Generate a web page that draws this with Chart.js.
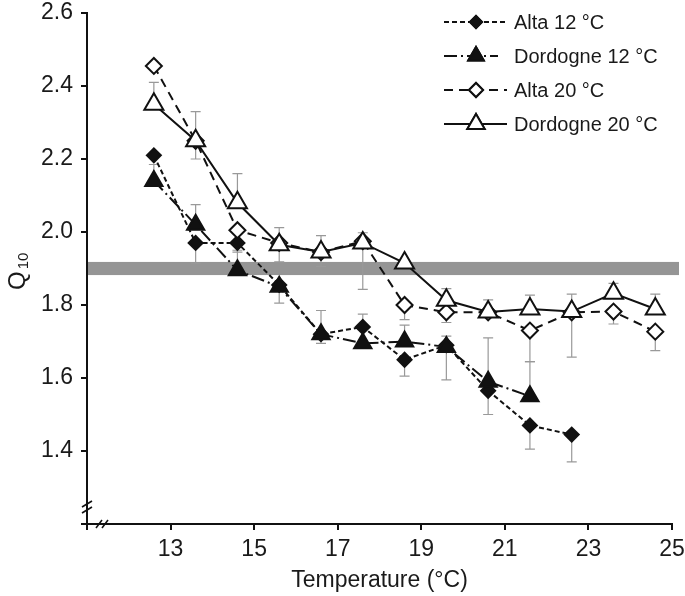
<!DOCTYPE html>
<html><head><meta charset="utf-8">
<script src="https://cdn.jsdelivr.net/npm/chart.js@4"></script>
<style>html,body{margin:0;padding:0;background:#fff}#wrap{width:685px;height:596px}</style>
</head><body><div id="wrap"><canvas id="c" width="685" height="596"></canvas></div>
<script>
// ---- data ----
const temperatures = [12.6, 13.6, 14.6, 15.6, 16.6, 17.6, 18.6, 19.6, 20.6, 21.6, 22.6, 23.6, 24.6];
const seriesNames = ['Alta 12 \u00B0C', 'Dordogne 12 \u00B0C', 'Alta 20 \u00B0C', 'Dordogne 20 \u00B0C'];

const alta12      = [2.21, 1.97, 1.97, 1.855, 1.72, 1.74, 1.65, 1.69, 1.565, 1.47, 1.445, null, null];
const dordogne12  = [2.14, 2.02, 1.895, 1.85, 1.72, 1.695, 1.70, 1.685, 1.59, 1.55, null, null, null];
const alta20      = [2.455, 2.25, 2.005, 1.97, 1.945, 1.975, 1.80, 1.78, 1.78, 1.73, 1.78, 1.782, 1.727];
const dordogne20  = [2.35, 2.25, 2.08, 1.965, 1.945, 1.97, 1.915, 1.813, 1.781, 1.789, 1.782, 1.832, 1.789];

// error bar ends (null = not visible)
const alta12Low      = [null, 1.915, 1.945, 1.805, 1.695, null, 1.605, null, 1.50, 1.405, 1.37, null, null];
const alta12High     = [null, null, null, null, null, 1.775, null, null, null, null, null, null, null];
const dordogne12Low  = [null, null, null, null, null, null, null, 1.595, null, null, null, null, null];
const dordogne12High = [2.185, 2.075, 1.95, null, 1.785, null, 1.745, 1.715, 1.71, 1.645, null, null, null];
const alta20Low      = [null, 2.20, null, 1.918, 1.905, 1.843, 1.76, 1.752, null, 1.645, 1.657, 1.748, 1.675];
const alta20High     = [null, null, null, null, null, null, null, null, null, null, null, null, null];
const dordogne20Low  = [null, null, null, null, null, null, null, null, null, null, null, null, null];
const dordogne20High = [2.41, 2.33, 2.16, 2.012, 1.99, 1.998, null, 1.845, 1.814, 1.827, 1.83, 1.859, 1.83];

const xTickValues = [11, 13, 15, 17, 19, 21, 23, 25];
const yTickValues = [1.2, 1.4, 1.6, 1.8, 2.0, 2.2, 2.4, 2.6];
const referenceBand = [1.882, 1.918];
const yTitleMain = 'Q';
const yTitleSub = '10';

// ---- chart ----
const INK = '#111';
const TXT = '#1a1a1a';
const ERR = '#999';
const FONT = "'Liberation Sans', Arial, Helvetica, sans-serif";

function pts(arr) { return temperatures.map((t, i) => ({x: t, y: arr[i]})).filter(p => p.y !== null); }

const styles = [
  {dash: [5, 3], style: 'rectRot', r: 7, fill: INK, order: 3},
  {dash: [13, 4, 2, 4], style: 'triangle', r: 10, fill: INK, order: 2},
  {dash: [9, 6], style: 'rectRot', r: 8, fill: '#fff', order: 1},
  {dash: [], style: 'triangle', r: 11, fill: '#fff', order: 0}
];
const seriesValues = [alta12, dordogne12, alta20, dordogne20];
const seriesLow = [alta12Low, dordogne12Low, alta20Low, dordogne20Low];
const seriesHigh = [alta12High, dordogne12High, alta20High, dordogne20High];

const datasets = seriesValues.map((vals, k) => ({
  label: seriesNames[k],
  data: pts(vals),
  borderColor: INK,
  borderWidth: 2,
  borderDash: styles[k].dash,
  pointStyle: styles[k].style,
  pointRadius: styles[k].r,
  pointBackgroundColor: styles[k].fill,
  pointBorderColor: INK,
  pointBorderWidth: 2,
  fill: false,
  tension: 0,
  order: styles[k].order
}));

const bandPlugin = {
  id: 'band',
  beforeDatasetsDraw(chart) {
    const {ctx, chartArea, scales} = chart;
    const y1 = scales.y.getPixelForValue(referenceBand[1]);
    const y0 = scales.y.getPixelForValue(referenceBand[0]);
    ctx.save();
    ctx.fillStyle = '#959595';
    ctx.fillRect(chartArea.left + 1, y1, chartArea.right - chartArea.left + 6, y0 - y1);
    ctx.restore();
  }
};

const errorPlugin = {
  id: 'errbars',
  beforeDatasetsDraw(chart) {
    const {ctx, scales} = chart;
    ctx.save();
    ctx.strokeStyle = ERR;
    ctx.lineWidth = 1.2;
    const cap = 5;
    seriesValues.forEach((vals, k) => {
      temperatures.forEach((t, i) => {
        if (vals[i] === null) return;
        const x = scales.x.getPixelForValue(t);
        const yv = scales.y.getPixelForValue(vals[i]);
        [seriesLow[k][i], seriesHigh[k][i]].forEach(e => {
          if (e === null) return;
          const ye = scales.y.getPixelForValue(e);
          ctx.beginPath();
          ctx.moveTo(x, yv); ctx.lineTo(x, ye);
          ctx.moveTo(x - cap, ye); ctx.lineTo(x + cap, ye);
          ctx.stroke();
        });
      });
    });
    ctx.restore();
  }
};

const decorPlugin = {
  id: 'decor',
  afterDraw(chart) {
    const {ctx, chartArea} = chart;
    ctx.save();
    // y-axis title with subscript
    ctx.translate(25, 290);
    ctx.rotate(-Math.PI / 2);
    ctx.fillStyle = TXT;
    ctx.textBaseline = 'alphabetic';
    ctx.textAlign = 'left';
    ctx.font = '24px ' + FONT;
    ctx.fillText(yTitleMain, 0, 0);
    const qw = ctx.measureText(yTitleMain).width;
    ctx.font = '15px ' + FONT;
    ctx.fillText(yTitleSub, qw + 2, 3);
    ctx.restore();

    ctx.save();
    // axis break marks
    ctx.strokeStyle = INK;
    ctx.lineWidth = 1.6;
    const bx = chartArea.left, by = chartArea.bottom - 17;
    [-3, 3].forEach(dy => {
      ctx.beginPath();
      ctx.moveTo(bx - 5, by + dy + 3); ctx.lineTo(bx + 5, by + dy - 3);
      ctx.stroke();
    });
    const cx = chartArea.left + 15, cy = chartArea.bottom;
    [-3, 3].forEach(dx => {
      ctx.beginPath();
      ctx.moveTo(cx + dx - 3, cy + 4); ctx.lineTo(cx + dx + 3, cy - 4);
      ctx.stroke();
    });
    // legend
    const lx0 = 444, lx1 = 507, mx = 476, tx = 514;
    const ly = [22, 56, 90, 124];
    ctx.font = '20px ' + FONT;
    ctx.textBaseline = 'middle';
    seriesNames.forEach((name, k) => {
      const y = ly[k];
      ctx.strokeStyle = INK;
      ctx.lineWidth = 2;
      ctx.setLineDash(styles[k].dash);
      ctx.beginPath();
      ctx.moveTo(lx0, y); ctx.lineTo(k === 1 ? 498 : lx1, y);
      ctx.stroke();
      ctx.setLineDash([]);
      Chart.helpers.drawPoint(ctx, {pointStyle: styles[k].style, radius: styles[k].r - 1, borderWidth: 2}, mx, y);
      ctx.fillStyle = styles[k].fill;
      ctx.fill();
      ctx.strokeStyle = INK;
      ctx.stroke();
      ctx.fillStyle = TXT;
      ctx.fillText(name, tx, y + 1);
    });
    ctx.restore();
  }
};

new Chart(document.getElementById('c'), {
  type: 'line',
  data: {datasets},
  plugins: [bandPlugin, errorPlugin, decorPlugin],
  options: {
    responsive: false,
    animation: false,
    devicePixelRatio: 1,
    layout: {padding: {top: 10, right: 13, left: 0, bottom: 0}},
    plugins: {legend: {display: false}, tooltip: {enabled: false}},
    scales: {
      x: {
        type: 'linear', min: 11, max: 25,
        afterBuildTicks: s => { s.ticks = xTickValues.map(v => ({value: v})); },
        afterFit: s => { s.height = 72; s.paddingRight = 0; s.paddingLeft = 0; },
        ticks: {
          callback: v => (v === 11 ? '' : String(v)),
          color: TXT, font: {family: FONT, size: 23}, padding: 6, maxRotation: 0, autoSkip: false
        },
        grid: {drawOnChartArea: false, drawTicks: true, tickLength: 6, color: INK, lineWidth: 2},
        border: {display: true, color: INK, width: 2},
        title: {display: true, text: 'Temperature (\u00B0C)', color: TXT, font: {family: FONT, size: 23}, padding: {top: 0, bottom: 2}}
      },
      y: {
        type: 'linear', min: 1.2, max: 2.6,
        afterBuildTicks: s => { s.ticks = yTickValues.map(v => ({value: v})); },
        afterFit: s => { s.width = 87; s.paddingTop = 0; s.paddingBottom = 0; },
        ticks: {
          callback: v => (Math.abs(v - 1.2) < 1e-9 ? '' : v.toFixed(1)),
          color: TXT, font: {family: FONT, size: 23}, padding: 8, autoSkip: false
        },
        grid: {drawOnChartArea: false, drawTicks: true, tickLength: 6, color: INK, lineWidth: 2},
        border: {display: true, color: INK, width: 2},
        title: {display: false}
      }
    }
  }
});
</script>
</body></html>
